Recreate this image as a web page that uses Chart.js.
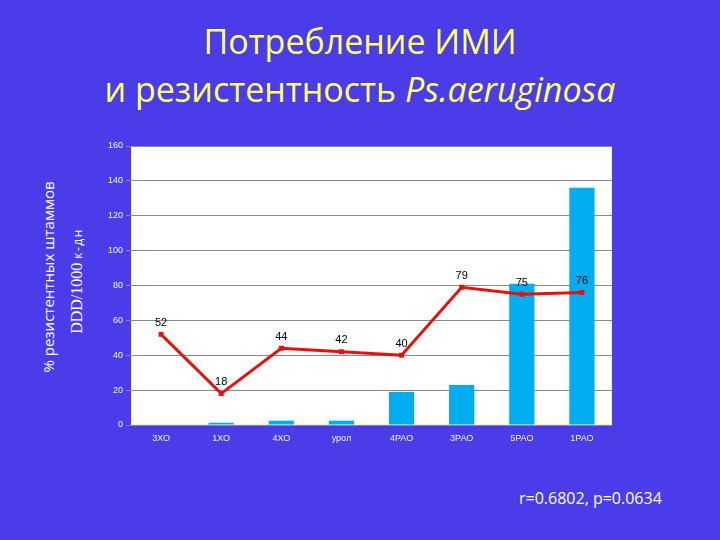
<!DOCTYPE html>
<html><head><meta charset="utf-8">
<script src="https://cdn.jsdelivr.net/npm/chart.js@4/dist/chart.umd.min.js"></script>
<style>
html,body{margin:0;padding:0;width:720px;height:540px;overflow:hidden;background:rgb(74,60,232);}
#wrap{position:absolute;left:0;top:0;width:720px;height:540px;}
.title{position:absolute;left:0;width:720px;text-align:center;color:#ffff66;font-family:"Open Sans",Lato,sans-serif;font-size:34px;line-height:40px;white-space:nowrap;}
.ylab{position:absolute;color:#fff;white-space:nowrap;transform-origin:center center;transform:translate(-50%,-50%) rotate(-90deg);}
#note{position:absolute;left:519px;top:487px;color:#fff;font-family:"Open Sans",Lato,sans-serif;font-size:16px;}
</style></head>
<body>
<div class="title" style="top:21px">Потребление ИМИ</div>
<div class="title" style="top:69px">и резистентность <i>Ps.aeruginosa</i></div>
<div class="ylab" style="left:48px;top:277px;font-family:'Open Sans',sans-serif;font-size:15px;">% резистентных штаммов</div>
<div class="ylab" style="left:77px;top:281px;"><span style="font-family:'Liberation Serif',serif;font-size:16px;">DDD/1000</span> <span style="font-family:'Open Sans',sans-serif;font-size:12px;letter-spacing:1.5px;">к-дн</span></div>
<div id="note">r=0.6802, p=0.0634</div>
<div id="wrap"><canvas id="c" width="720" height="540"></canvas></div>
<script>
const categories = ["3ХО","1ХО","4ХО","урол","4РАО","3РАО","5РАО","1РАО"];
const consumption = [0, 1.3, 2.5, 2.5, 19, 23, 81, 136];
const resistance = [52, 18, 44, 42, 40, 79, 75, 76];
const yTicks = [0,20,40,60,80,100,120,140,160];

const bgPlugin = {
  id:'plotbg',
  beforeDraw(chart){
    const {ctx, chartArea:a} = chart;
    ctx.save();
    ctx.fillStyle = '#ffffff';
    ctx.fillRect(a.left, a.top, a.right-a.left, a.bottom-a.top);
    ctx.strokeStyle = '#f3f0d0';
    ctx.lineWidth = 1;
    ctx.strokeRect(a.left+0.5, a.top+0.5, a.right-a.left-1, a.bottom-a.top-1);
    ctx.restore();
  }
};
const labelPlugin = {
  id:'vlabels',
  afterDatasetsDraw(chart){
    const ctx = chart.ctx;
    const meta = chart.getDatasetMeta(0);
    ctx.save();
    ctx.fillStyle = '#000';
    ctx.font = '11px "Liberation Sans", Arial, sans-serif';
    ctx.textAlign = 'center';
    ctx.textBaseline = 'bottom';
    meta.data.forEach((p,i)=>{
      ctx.fillText(String(resistance[i]), p.x, p.y - 6);
    });
    ctx.restore();
  }
};

new Chart(document.getElementById('c'), {
  data:{
    labels: categories,
    datasets:[
      {type:'line', label:'резистентность', data: resistance, borderColor:'#e8100c', backgroundColor:'#e8100c',
       borderWidth:3, pointStyle:'rect', pointRadius:3.5, pointBorderWidth:0, order:0, tension:0},
      {type:'bar', label:'DDD', data: consumption, backgroundColor:'#00aef0', borderWidth:0,
       categoryPercentage:1, barPercentage:0.42, order:1}
    ]
  },
  options:{
    responsive:false, animation:false, devicePixelRatio:1,
    layout:{padding:{left:90, right:108, top:146, bottom:80}},
    plugins:{legend:{display:false}, tooltip:{enabled:false}},
    scales:{
      x:{
        grid:{display:false, drawTicks:false},
        border:{display:false},
        ticks:{color:'#f4f4ff', font:{family:'"Liberation Sans", Arial, sans-serif', size:9}, padding:8, maxRotation:0},
        afterFit(s){ s.height = 35; }
      },
      y:{
        min:0, max:160,
        afterBuildTicks(s){ s.ticks = yTicks.map(v=>({value:v})); },
        grid:{color:'#8a8a8a', lineWidth:1, tickLength:5, tickColor:'#8a8a8a'},
        border:{display:false},
        ticks:{color:'#f4f4ff', font:{family:'"Liberation Sans", Arial, sans-serif', size:9}, padding:3},
        afterFit(s){ s.width = 41; }
      }
    }
  },
  plugins:[bgPlugin, labelPlugin]
});
</script>
</body></html>
